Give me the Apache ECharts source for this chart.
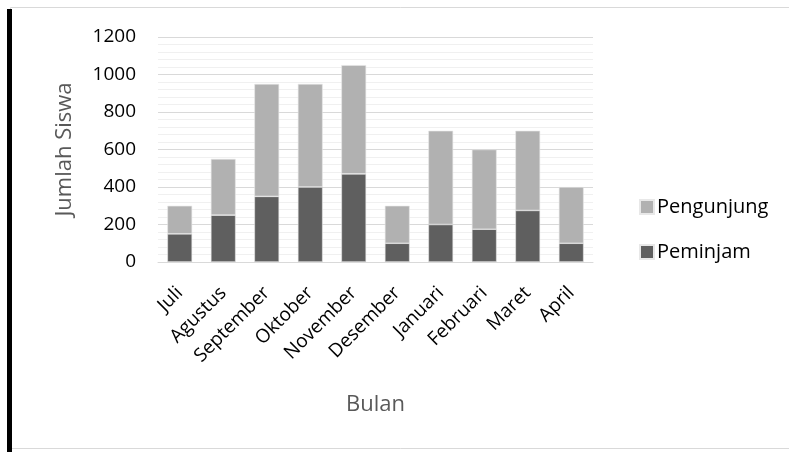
<!DOCTYPE html>
<html>
<head>
<meta charset="utf-8">
<script src="https://cdn.jsdelivr.net/npm/echarts@6/dist/echarts.min.js"></script>
<style>
  html, body { margin: 0; padding: 0; background: #fff; }
  #chart { width: 789px; height: 452px; }
</style>
</head>
<body>
<div id="chart"></div>
<script>
// Monthly counts of students (borrowers and visitors)
const months = ['Juli', 'Agustus', 'September', 'Oktober', 'November', 'Desember', 'Januari', 'Februari', 'Maret', 'April'];
const peminjam = [150, 250, 350, 400, 470, 100, 200, 175, 275, 100];
const pengunjung = [150, 300, 600, 550, 580, 200, 500, 425, 425, 300];
const yTicks = [0, 200, 400, 600, 800, 1000, 1200];

const FONT = '"Open Sans", sans-serif';
const chart = echarts.init(document.getElementById('chart'), null, { renderer: 'canvas' });

chart.setOption({
  animation: false,
  textStyle: { fontFamily: FONT },
  graphic: [
    { type: 'rect', shape: { x: 10.5, y: 7.5, width: 790, height: 441 },
      style: { fill: 'none', stroke: '#d9d9d9', lineWidth: 1 }, silent: true },
    { type: 'rect', shape: { x: 7, y: 9, width: 5, height: 450 },
      style: { fill: '#000' }, silent: true }
  ],
  grid: { left: 158, right: 196, top: 37, bottom: 190 },
  legend: {
    orient: 'vertical',
    left: 634,
    top: 192,
    itemWidth: 14,
    itemHeight: 14,
    itemGap: 25,
    icon: 'rect',
    data: ['Pengunjung', 'Peminjam'],
    textStyle: { fontFamily: FONT, fontSize: 20, color: '#000', padding: [0, 0, 0, -2] }
  },
  xAxis: {
    type: 'category',
    data: months,
    name: 'Bulan',
    nameLocation: 'middle',
    nameGap: 132,
    nameTextStyle: { fontFamily: FONT, fontSize: 22, color: '#595959' },
    axisTick: { show: false },
    axisLine: { lineStyle: { color: '#d9d9d9', width: 1 } },
    axisLabel: { rotate: 45, fontFamily: FONT, fontSize: 19, color: '#000', margin: 28, interval: 0 }
  },
  yAxis: {
    type: 'value',
    min: yTicks[0],
    max: yTicks[yTicks.length - 1],
    interval: 200,
    name: 'Jumlah Siswa',
    nameLocation: 'middle',
    nameGap: 82,
    nameTextStyle: { fontFamily: FONT, fontSize: 22, color: '#595959' },
    axisLine: { show: false },
    axisTick: { show: false },
    axisLabel: { fontFamily: FONT, fontSize: 19, color: '#000', margin: 22, formatter: v => String(v) },
    splitLine: { lineStyle: { color: '#d9d9d9', width: 1 } },
    minorTick: { show: false, splitNumber: 5 },
    minorSplitLine: { show: true, lineStyle: { color: '#f0f0f0', width: 1 } }
  },
  series: [
    {
      name: 'Peminjam',
      type: 'bar',
      stack: 'total',
      data: peminjam,
      barWidth: '57%',
      itemStyle: { color: '#5f5f5f', borderColor: '#e8e8e8', borderWidth: 0.6 }
    },
    {
      name: 'Pengunjung',
      type: 'bar',
      stack: 'total',
      data: pengunjung,
      barWidth: '57%',
      itemStyle: { color: '#b1b1b1', borderColor: '#e8e8e8', borderWidth: 0.6 }
    }
  ]
});
</script>
</body>
</html>
